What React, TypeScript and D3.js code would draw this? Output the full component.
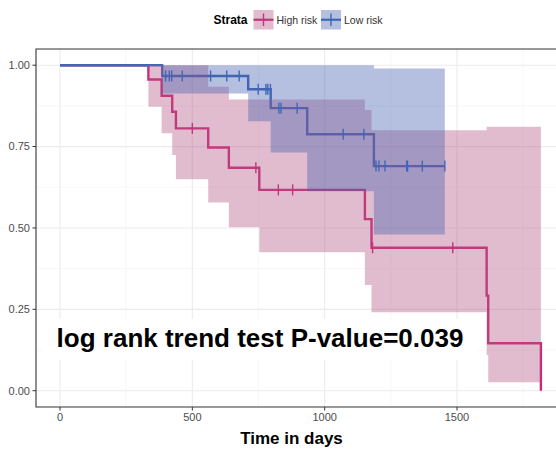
import * as d3 from "d3";

// Kaplan-Meier steps
const highRiskTime = [0, 334, 384, 424, 438, 560, 638, 753, 1152, 1177, 1612, 1618];
const highRiskSurv = [1, 0.956, 0.906, 0.857, 0.806, 0.747, 0.685, 0.617, 0.527, 0.439, 0.292, 0.146];
const highRiskUpper = [1, 1, 1, 1, 1, 0.934, 0.895, 0.895, 0.862, 0.8, 0.811, 0.811];
const highRiskLower = [1, 0.872, 0.791, 0.724, 0.65, 0.578, 0.502, 0.425, 0.325, 0.241, 0.11, 0.026];
const highRiskEnd = 1817;
const highRiskEndSurv = 0;
const highRiskCensor = [500, 740, 825, 879, 1181, 1484];

const lowRiskTime = [0, 386, 711, 796, 934, 1186];
const lowRiskSurv = [1, 0.967, 0.926, 0.868, 0.788, 0.69];
const lowRiskUpper = [1, 1, 1, 1, 1, 0.99];
const lowRiskLower = [1, 0.913, 0.828, 0.732, 0.613, 0.48];
const lowRiskEnd = 1454;
const lowRiskCensor = [
  399, 413, 422, 462, 569, 630, 677, 749, 778, 785, 795, 827, 835, 896, 1070,
  1148, 1194, 1205, 1228, 1310, 1313, 1369, 1454,
];

const xTicks = [0, 500, 1000, 1500];
const xMinor = [250, 750, 1250, 1750];
const yTicks = [0, 0.25, 0.5, 0.75, 1];
const yMinor = [0.125, 0.375, 0.625, 0.875];
const strata = ["High risk", "Low risk"];

const W = 556;
const H = 451;
const panel = { left: 36, top: 49, right: 566, bottom: 407 };

const pink = { line: "rgb(200,40,120)", fill: "rgb(180,88,133)", tick: "rgb(194,52,124)" };
const blue = { line: "rgb(64,102,180)", fill: "rgb(70,98,178)", tick: "rgb(62,104,182)" };

const x = d3.scaleLinear().domain([0, 1500]).range([60, 457]);
const y = d3.scaleLinear().domain([0, 1]).range([390.7, 65.2]);

type Pt = { t: number; s: number; lo: number; hi: number };

function build(time: number[], surv: number[], lo: number[], hi: number[], end: number, endSurv: number | null) {
  const pts: Pt[] = time.map((t, i) => ({ t, s: surv[i], lo: lo[i], hi: hi[i] }));
  const last = pts[pts.length - 1];
  const band = [...pts, { ...last, t: end }];
  const line = [...pts, { ...last, t: end, s: endSurv == null ? last.s : endSurv }];
  return { band, line, pts };
}

const high = build(highRiskTime, highRiskSurv, highRiskLower, highRiskUpper, highRiskEnd, highRiskEndSurv);
const low = build(lowRiskTime, lowRiskSurv, lowRiskLower, lowRiskUpper, lowRiskEnd, null);

const stepLine = d3
  .line<Pt>()
  .x((d) => x(d.t))
  .y((d) => y(d.s))
  .curve(d3.curveStepAfter);

const stepArea = d3
  .area<Pt>()
  .x((d) => x(d.t))
  .y0((d) => y(d.lo))
  .y1((d) => y(d.hi))
  .curve(d3.curveStepAfter);

function survAt(pts: Pt[], t: number) {
  let s = 1;
  for (const p of pts) if (p.t <= t) s = p.s;
  return s;
}

export default function App() {
  const font = "'Liberation Sans', Arial, sans-serif";
  return (
    <svg
      width={W}
      height={H}
      style={{ position: "absolute", left: 0, top: 0, background: "#fff" }}
      fontFamily={font}
    >
      <rect width={W} height={H} fill="#fff" />
      {/* grid */}
      {xMinor.map((t) => (
        <line key={"xm" + t} x1={x(t)} x2={x(t)} y1={panel.top} y2={panel.bottom} stroke="#F2F2F2" strokeWidth={0.6} />
      ))}
      {yMinor.map((v) => (
        <line key={"ym" + v} x1={panel.left} x2={panel.right} y1={y(v)} y2={y(v)} stroke="#F2F2F2" strokeWidth={0.6} />
      ))}
      {xTicks.map((t) => (
        <line key={"xg" + t} x1={x(t)} x2={x(t)} y1={panel.top} y2={panel.bottom} stroke="#EBEBEB" strokeWidth={1.1} />
      ))}
      {yTicks.map((v) => (
        <line key={"yg" + v} x1={panel.left} x2={panel.right} y1={y(v)} y2={y(v)} stroke="#EBEBEB" strokeWidth={1.1} />
      ))}

      {/* survival steps */}
      <path d={stepLine(high.line) || ""} fill="none" stroke={pink.line} strokeWidth={2.4} />
      <path d={stepLine(low.line) || ""} fill="none" stroke={blue.line} strokeWidth={2.4} />

      {/* confidence bands */}
      <path d={stepArea(high.band) || ""} fill={pink.fill} fillOpacity={0.4} />
      <path d={stepArea(low.band) || ""} fill={blue.fill} fillOpacity={0.4} />

      {/* censor marks */}
      {highRiskCensor.map((t, i) => (
        <line key={"hc" + i} x1={x(t)} x2={x(t)} y1={y(survAt(high.pts, t)) - 5.5} y2={y(survAt(high.pts, t)) + 5.5} stroke={pink.tick} strokeWidth={1.4} />
      ))}
      {lowRiskCensor.map((t, i) => (
        <line key={"lc" + i} x1={x(t)} x2={x(t)} y1={y(survAt(low.pts, t)) - 5.5} y2={y(survAt(low.pts, t)) + 5.5} stroke={blue.tick} strokeWidth={1.4} />
      ))}

      {/* annotation label */}
      <rect x={42} y={319} width={436} height={41} fill="#fff" />
      <text x={260} y={347} textAnchor="middle" fontSize={26} fontWeight="bold" fill="#000">
        log rank trend test P-value=0.039
      </text>

      {/* panel border */}
      <path
        d={`M${panel.right},${panel.top}H${panel.left}V${panel.bottom}H${panel.right}`}
        fill="none"
        stroke="#333"
        strokeWidth={1.1}
      />

      {/* y axis */}
      {yTicks.map((v) => (
        <g key={"yt" + v}>
          <line x1={32.5} x2={panel.left} y1={y(v)} y2={y(v)} stroke="#333" strokeWidth={1} />
          <text x={30} y={y(v)} dy="0.35em" textAnchor="end" fontSize={11} fill="#4D4D4D">
            {d3.format(".2f")(v)}
          </text>
        </g>
      ))}
      {/* x axis */}
      {xTicks.map((t) => (
        <g key={"xt" + t}>
          <line x1={x(t)} x2={x(t)} y1={panel.bottom} y2={panel.bottom + 3.5} stroke="#333" strokeWidth={1} />
          <text x={x(t)} y={421} textAnchor="middle" fontSize={11} fill="#4D4D4D">
            {t}
          </text>
        </g>
      ))}
      <text x={291.5} y={444} textAnchor="middle" fontSize={17} fontWeight="bold" fill="#000">
        Time in days
      </text>

      {/* legend */}
      <text x={247.5} y={23.5} textAnchor="end" fontSize={12} fontWeight="bold" fill="#000">
        Strata
      </text>
      {strata.map((s, i) => {
        const c = i === 0 ? pink : blue;
        const kx = i === 0 ? 253.5 : 321;
        return (
          <g key={s}>
            <rect x={kx} y={10} width={20} height={19.5} fill="#fff" />
            <rect x={kx} y={10} width={20} height={19.5} fill={c.fill} fillOpacity={0.4} />
            <line x1={kx} x2={kx + 20} y1={19.75} y2={19.75} stroke={c.tick} strokeWidth={2.2} />
            <line x1={kx + 10} x2={kx + 10} y1={13.5} y2={26} stroke={c.tick} strokeWidth={1.4} />
            <text x={kx + 23} y={23.5} fontSize={10.5} fill="#333">
              {s}
            </text>
          </g>
        );
      })}
    </svg>
  );
}
